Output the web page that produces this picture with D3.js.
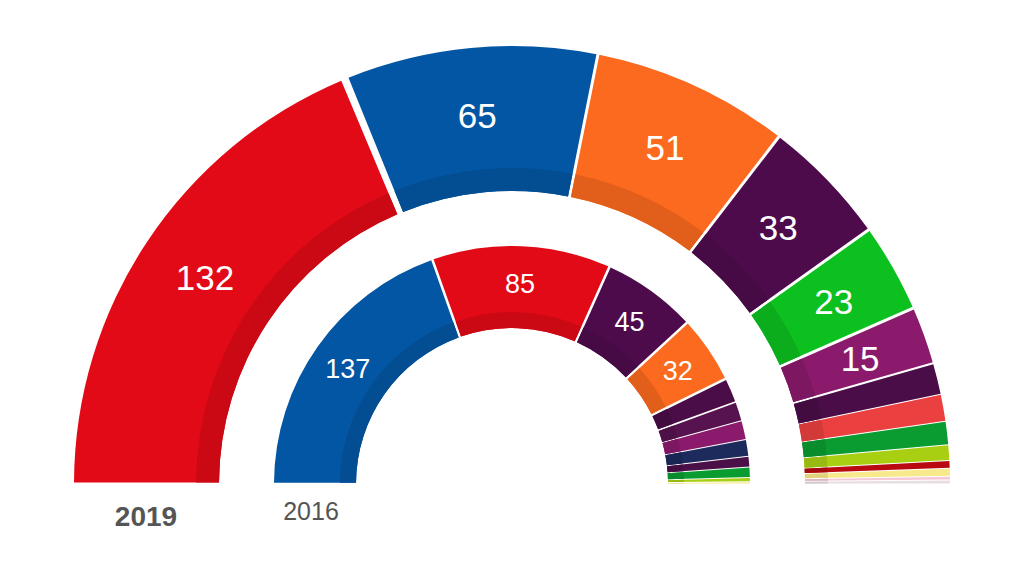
<!DOCTYPE html>
<html>
<head>
<meta charset="utf-8">
<script src="https://cdn.jsdelivr.net/npm/d3@7"></script>
<style>
  body { margin: 0; background: #fff; }
  text { font-family: "Liberation Sans", Arial, sans-serif; }
</style>
</head>
<body>
<div id="chart"></div>
<script>
// DATA ---------------------------------------------------------------------
const TOTAL_SEATS = 350;

const parties2019 = ['PSOE', 'PP', 'Cs', 'UP', 'Vox', 'ERC', 'ECP', 'JxCat', 'PNV', 'EH Bildu', 'Compromís', 'CC', 'NA+', 'PRC'];
const seats2019 = [132, 65, 51, 33, 23, 15, 8, 7, 6, 4, 2, 2, 1, 1];

const parties2016 = ['PP', 'PSOE', 'Podemos', 'Cs', 'ECP', 'Compromís-Podemos', 'ERC', 'CDC', 'En Marea', 'PNV', 'EH Bildu', 'CC'];
const seats2016 = [137, 85, 45, 32, 12, 9, 9, 8, 5, 5, 2, 1];

const yearLabels = ['2019', '2016'];

// party colours
const partyColors = {
    'PSOE': '#e20a17',
    'PP': '#0356a3',
    'Cs': '#fb6a1e',
    'UP': '#4e0b4c',
    'Podemos': '#4e0b4c',
    'Vox': '#0cc020',
    'ERC': '#8b1a6c',
    'ECP': '#4a0d48',
    'Compromís-Podemos': '#56134f',
    'CDC': '#1c2a5c',
    'En Marea': '#4c1049',
    'JxCat': '#ea4140',
    'PNV': '#0a9c30',
    'EH Bildu': '#a9cf12',
    'Compromís': '#b80a10',
    'CC': '#f8e98c',
    'NA+': '#f4c8d6',
    'PRC': '#e8dde3'
};

// CHART INIT ---------------------------------------------------------------
const width = 1024;
const height = 576;
const cx = 512;
const cy = 484;

const svg = d3.select('#chart')
    .append('svg')
    .attr('width', width)
    .attr('height', height);

const g = svg.append('g')
    .attr('transform', 'translate(' + cx + ',' + cy + ')');

// seats -> angle (left horizontal to right horizontal)
const angleScale = d3.scaleLinear()
    .domain([0, TOTAL_SEATS])
    .range([-Math.PI / 2, Math.PI / 2]);

function drawRing(parties, seats, opts) {
    let cum = 0;
    const slices = seats.map((s, i) => {
        const d = {party: parties[i], seats: s, start: cum, end: cum + s};
        cum += s;
        return d;
    });

    const gap = s => s >= 10 ? opts.gap : 1;

    const mainArc = d3.arc()
        .innerRadius(opts.inner)
        .outerRadius(opts.outer)
        .startAngle(d => angleScale(d.start))
        .endAngle(d => angleScale(d.end) - (d.extra || 0))
        .padRadius(opts.labelR)
        .padAngle(d => gap(d.seats) / opts.labelR);

    const bandArc = d3.arc()
        .innerRadius(opts.inner)
        .outerRadius(opts.inner + opts.band)
        .startAngle(d => angleScale(d.start))
        .endAngle(d => angleScale(d.end) - (d.extra || 0))
        .padRadius(opts.labelR)
        .padAngle(d => gap(d.seats) / opts.labelR);

    if (opts.firstExtra) slices[0].extra = opts.firstExtra;

    const ring = g.append('g').attr('class', 'ring');

    ring.selectAll('path.main')
        .data(slices)
        .join('path')
        .attr('class', 'main')
        .attr('d', mainArc)
        .attr('fill', d => partyColors[d.party]);

    ring.selectAll('path.band')
        .data(slices)
        .join('path')
        .attr('class', 'band')
        .attr('d', bandArc)
        .attr('fill', d => d3.color(partyColors[d.party]).darker(0.3));

    ring.selectAll('text')
        .data(slices.filter(d => d.seats >= 15))
        .join('text')
        .attr('x', d => opts.labelR * Math.sin(angleScale((d.start + d.end) / 2)))
        .attr('y', d => -opts.labelR * Math.cos(angleScale((d.start + d.end) / 2)))
        .attr('dy', '0.36em')
        .attr('text-anchor', 'middle')
        .attr('fill', '#fff')
        .attr('font-size', opts.fontSize)
        .text(d => d.seats);
}

drawRing(parties2019, seats2019, {inner: 293, outer: 438, band: 23, labelR: 370, gap: 3, fontSize: 35, firstExtra: 0.011});
drawRing(parties2016, seats2016, {inner: 156, outer: 238, band: 16, labelR: 201, gap: 2.5, fontSize: 27});

// year labels
svg.append('text')
    .attr('x', 146)
    .attr('y', 526)
    .attr('text-anchor', 'middle')
    .attr('font-size', 28)
    .attr('font-weight', 'bold')
    .attr('fill', '#555')
    .text(yearLabels[0]);

svg.append('text')
    .attr('x', 311)
    .attr('y', 520)
    .attr('text-anchor', 'middle')
    .attr('font-size', 25)
    .attr('fill', '#555')
    .text(yearLabels[1]);
</script>
</body>
</html>
